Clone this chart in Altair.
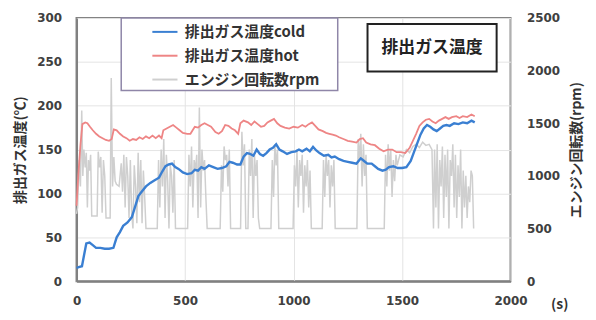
import altair as alt
import pandas as pd

# ---- data ----
COLD_T = [0, 10, 25, 35, 45, 60, 75, 90, 110, 130, 150, 170, 185, 200, 215, 235, 255, 270, 285, 300,
          320, 340, 360, 380, 395, 410, 425, 440, 455, 470, 490, 510, 530, 545, 560, 575, 590, 610, 630, 650,
          670, 690, 705, 720, 740, 755, 770, 785, 800, 815, 830, 845, 860, 875, 890, 905, 920, 935, 950, 970,
          990, 1010, 1025, 1040, 1060, 1075, 1090, 1105, 1120, 1140, 1160, 1175, 1190, 1210, 1230, 1250, 1270,
          1290, 1310, 1325, 1340, 1360, 1375, 1390, 1410, 1425, 1440, 1460, 1480, 1500, 1520, 1540, 1555, 1570,
          1585, 1600, 1615, 1630, 1645, 1660, 1675, 1690, 1705, 1720, 1740, 1760, 1780, 1800, 1820, 1835]
COLD_V = [15, 16, 17, 30, 43, 44, 41, 38, 38, 37, 37, 38, 50, 56, 63, 67, 73, 85, 97, 102,
          108, 112, 115, 118, 125, 131, 133, 134, 130, 128, 124, 122, 123, 127, 126, 130, 128, 132, 130, 128,
          129, 131, 136, 135, 133, 133, 142, 146, 145, 143, 150, 145, 143, 146, 150, 152, 156, 150, 148, 145,
          147, 148, 150, 148, 151, 148, 153, 149, 146, 143, 144, 141, 142, 139, 137, 136, 135,
          134, 140, 137, 134, 134, 131, 128, 126, 127, 130, 131, 129, 129, 130, 137, 147, 157,
          167, 174, 178, 176, 173, 171, 174, 177, 178, 177, 180, 179, 181, 180, 183, 181]

HOT_T = [0, 8, 18, 27, 40, 50, 62, 75, 90, 105, 120, 135, 150, 162, 172, 185, 200, 215, 230, 245,
         260, 275, 290, 305, 320, 335, 350, 365, 380, 392, 400, 415, 430, 445, 460, 475, 490, 510, 525, 535,
         545, 560, 575, 590, 605, 620, 640, 655, 670, 685, 700, 715, 730, 745, 755, 770, 790, 805, 820, 835,
         850, 865, 880, 895, 910, 925, 940, 960, 980, 1000, 1020, 1040, 1055, 1070, 1085, 1100, 1115, 1135,
         1150, 1165, 1180, 1195, 1210, 1230, 1250, 1270, 1290, 1305, 1320, 1335, 1355, 1375, 1395, 1415, 1435,
         1455, 1475, 1495, 1515, 1535, 1550, 1565, 1580, 1595, 1610, 1625, 1640, 1655, 1670, 1685, 1700, 1715,
         1730, 1750, 1765, 1780, 1800, 1820, 1835]
HOT_V = [86, 120, 155, 179, 181, 180, 176, 172, 168, 165, 163, 161, 160, 162, 173, 172, 168, 165, 163, 160,
         162, 161, 164, 162, 165, 163, 166, 163, 166, 163, 172, 174, 176, 178, 175, 172, 169, 168, 168, 172,
         176, 175, 178, 180, 178, 176, 170, 168, 171, 178, 177, 174, 172, 168, 180, 183, 181, 178, 182, 179,
         176, 177, 181, 183, 185, 180, 177, 175, 174, 176, 175, 178, 176, 179, 181, 177, 173, 171,
         169, 168, 167, 166, 164, 162, 160, 159, 158, 162, 163, 158, 156, 155, 151, 148, 150,
         150, 147, 147, 146, 152, 160, 168, 177, 181, 184, 185, 182, 180, 183, 185, 187, 185,
         187, 188, 186, 188, 187, 190, 188]

RPM_T = [0, 5, 12, 18, 24, 29, 34, 40, 45, 50, 55, 60, 65, 70, 75, 95, 100, 106, 112, 118, 124, 130, 136,
         145, 155, 160, 166,
         172, 178, 184, 196, 206, 212, 218, 224, 230, 236, 242, 248, 254, 260, 266, 272, 278, 284, 290, 296,
         302, 308, 314, 320, 372,
         378, 384, 390, 396, 402, 408, 414, 420, 426, 432, 438, 444, 450, 456, 512,
         518, 524, 530, 536, 542, 548, 554, 560, 566, 572, 578, 584, 590, 596, 602, 662,
         668, 674, 680, 686, 692, 698, 704, 710, 756,
         762, 768, 774, 780, 790, 796, 802, 808, 814, 820, 826, 832, 838, 844, 896,
         902, 908, 914, 920, 926, 932, 998,
         1004, 1010, 1016, 1022, 1028, 1034, 1040, 1046, 1052, 1058, 1064, 1070, 1076, 1082, 1132,
         1138, 1144, 1150, 1156, 1162, 1168, 1174, 1180, 1186, 1192, 1292,
         1298, 1304, 1310, 1316, 1322, 1328, 1334, 1340, 1418,
         1424, 1430, 1436, 1442, 1448, 1454, 1460, 1466, 1472, 1478, 1490, 1505, 1520, 1535, 1550, 1565,
         1580, 1595, 1610, 1625, 1638,
         1645, 1650, 1656, 1662, 1668, 1674, 1680, 1686, 1692, 1698, 1704, 1710, 1716, 1722, 1728, 1734,
         1740, 1746, 1752, 1758, 1764, 1770, 1776, 1782, 1788, 1794, 1800, 1806, 1812, 1818, 1824, 1830]
RPM_V = [640, 700, 1150, 900, 1620, 1000, 1250, 1080, 1220, 700, 1150, 1050, 1200, 620, 620, 620, 1230,
         1080, 1180, 650, 1150, 1000, 600, 600, 600, 1930, 900,
         1180, 950, 920, 900, 1120, 850, 1200, 700, 1180, 1000, 600, 1150, 650, 500, 1100, 900, 550, 1220,
         750, 1150, 550, 1050, 800, 500, 500,
         1150, 700, 1250, 900, 1350, 600, 1200, 950, 500, 1100, 1000, 650, 1150, 500, 500,
         1200, 900, 1280, 700, 1150, 1050, 1200, 600, 1650, 700, 1250, 1050, 1150, 800, 500, 500,
         1100, 850, 1280, 1150, 1200, 900, 1250, 500, 500,
         1420, 1100, 1300, 500, 500, 1250, 1000, 1350, 600, 1200, 1000, 1150, 600, 500, 500,
         1150, 800, 1300, 1100, 1250, 500, 500,
         1100, 900, 1250, 700, 1150, 1000, 1200, 650, 1100, 900, 1150, 700, 1050, 500, 500,
         1150, 800, 1200, 1000, 1150, 700, 1100, 900, 1150, 500, 500,
         1350, 1150, 1400, 900, 1300, 1000, 1200, 500, 500,
         1200, 900, 1300, 1050, 1250, 800, 1150, 950, 1200, 1100, 1200, 1180, 1250, 1220, 1280, 1300,
         1270, 1320, 1290, 1300, 1250,
         500, 1250, 700, 1300, 500, 1150, 900, 1280, 600, 1200, 800, 1250, 500, 1150, 1000, 1300,
         700, 1200, 600, 1100, 800, 1250, 500, 1050, 700, 1000, 600, 900, 750, 1050, 1000, 500]

SERIES = ["排出ガス温度cold", "排出ガス温度hot", "エンジン回転数rpm"]
COLORS = ["#3a7fd2", "#ee8585", "#cfcfcf"]
X_TICKS = [0, 500, 1000, 1500, 2000]
T_TICKS = [0, 50, 100, 150, 200, 250, 300]
R_TICKS = [0, 500, 1000, 1500, 2000, 2500]

FONT = "Noto Sans CJK JP"
NUMFONT = "DejaVu Sans"
H = 265  # plot height (top at 17px, bottom at 282px)

cold = pd.DataFrame({"t": COLD_T, "v": COLD_V, "s": SERIES[0]})
hot = pd.DataFrame({"t": HOT_T, "v": HOT_V, "s": SERIES[1]})
rpm = pd.DataFrame({"t": RPM_T, "r": RPM_V, "s": SERIES[2]})

color = alt.Color(
    "s:N",
    scale=alt.Scale(domain=SERIES, range=COLORS),
    legend=alt.Legend(
        title=None, orient="none", legendX=75, legendY=0,
        symbolType="stroke", symbolSize=640, symbolStrokeWidth=2,
        labelFont=FONT, labelFontSize=15, labelFontWeight="bold", labelColor="#333333",
        labelOffset=6, rowPadding=2, padding=0,
    ),
)

xenc = alt.X(
    "t:Q",
    scale=alt.Scale(domain=[0, 2000], nice=False),
    axis=alt.Axis(values=X_TICKS, format="d", title="(s)", titleX=486, titleY=17, titleAlign="center",
                  titleBaseline="top", labelFlush=False, labelPadding=15, ticks=False,
                  grid=True, gridColor="#e4e4e4"),
)

rpm_layer = alt.Chart(rpm).mark_line(strokeWidth=1.5).encode(
    x=xenc,
    y=alt.Y("r:Q", scale=alt.Scale(domain=[0, 2500], nice=False),
            axis=alt.Axis(orient="right", values=R_TICKS, format="d", title="エンジン回転数(rpm)",
                          titleAngle=270, titleX=66, titleY=H / 2, titleAlign="center",
                          titleBaseline="middle", labelPadding=16, ticks=False, grid=False,
                          domain=False)),
    color=color,
)

yT = alt.Y("v:Q", scale=alt.Scale(domain=[0, 300], nice=False),
           axis=alt.Axis(orient="left", values=T_TICKS, format="d", title="排出ガス温度(℃)",
                         titleAngle=270, titleX=-56, titleY=H / 2, titleAlign="center",
                         titleBaseline="middle", labelPadding=15, ticks=False,
                         grid=True, gridColor="#e4e4e4"))

hot_layer = alt.Chart(hot).mark_line(strokeWidth=1.8).encode(x=xenc, y=yT, color=color)
cold_layer = alt.Chart(cold).mark_line(strokeWidth=2.4).encode(x=xenc, y=yT, color=color)

box_df = pd.DataFrame({"k": [0]})
legend_box = alt.Chart(box_df).mark_rect(fill="white", stroke="#8f86a8", strokeWidth=1.5).encode(
    x=alt.value(45), x2=alt.value(263), y=alt.value(0), y2=alt.value(73))
title_box = alt.Chart(box_df).mark_rect(fill="white", stroke="#222222", strokeWidth=2).encode(
    x=alt.value(293), x2=alt.value(423), y=alt.value(6), y2=alt.value(54))
title_text = alt.Chart(box_df).mark_text(font=FONT, fontSize=17, fontWeight="bold",
                                         color="#222222", align="center", baseline="middle").encode(
    x=alt.value(358), y=alt.value(30), text=alt.value("排出ガス温度"))

temp = alt.layer(hot_layer, cold_layer)
chart = alt.layer(rpm_layer, temp, legend_box, title_box, title_text).resolve_scale(
    y="independent"
).properties(
    width=437, height=H,
    autosize=alt.AutoSizeParams(type="none"),
    padding={"left": 69, "top": 9, "right": 78, "bottom": 30},
).configure_axis(
    labelFont=NUMFONT, labelFontSize=12, labelFontWeight="bold", labelColor="#404040",
    titleFont=FONT, titleFontSize=14, titleFontWeight="bold", titleColor="#333333",
    domainColor="#808080", domainWidth=2,
).configure_view(
    stroke="#808080", strokeWidth=2,
)

chart.save("out.html", embed_options={"renderer": "svg", "actions": False})
